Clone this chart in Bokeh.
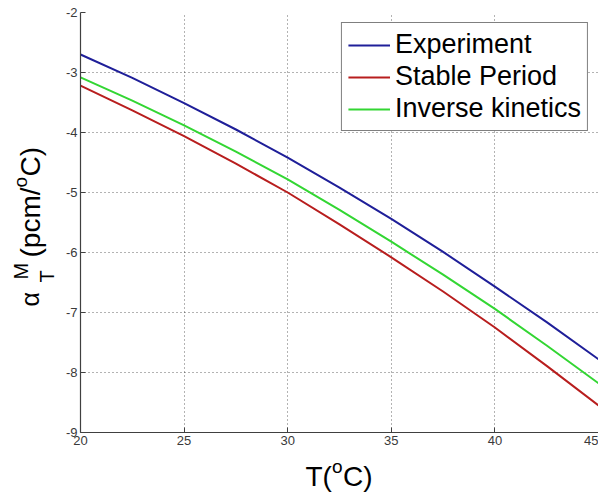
import math
from bokeh.plotting import figure
from bokeh.layouts import row, column
from bokeh.models import Range1d, FixedTicker, Label, Legend, LegendItem
from bokeh.embed import file_html
from bokeh.resources import INLINE

# ---- data ----
temperature = [20, 22.5, 25, 27.5, 30, 32.5, 35, 37.5, 40, 42.5, 45]
experiment = [-2.70, -3.09, -3.51, -3.95, -4.42, -4.92, -5.44, -5.99, -6.57, -7.16, -7.78]
stable_period = [-3.22, -3.63, -4.06, -4.52, -5.00, -5.53, -6.08, -6.65, -7.25, -7.89, -8.55]
inverse_kinetics = [-3.08, -3.47, -3.88, -4.32, -4.78, -5.29, -5.82, -6.37, -6.94, -7.55, -8.18]

series_names = ["Experiment", "Stable Period", "Inverse kinetics"]
series_colors = ["#1f1f99", "#b81e1e", "#33d633"]

x_ticks = [20, 25, 30, 35, 40, 45]
y_ticks = [-9, -8, -7, -6, -5, -4, -3, -2]
x_lo, x_hi = 20, 45
y_lo, y_hi = -9, -2

FONT = "Liberation Sans"

# ---- layout sizes ----
TOTAL_W, TOTAL_H = 598, 492
YLAB_W = 58            # strip holding the rotated y title
XLAB_H = 40            # strip holding the x title
MAIN_W = TOTAL_W - YLAB_W
MAIN_H = TOTAL_H - XLAB_H

p = figure(width=MAIN_W, height=MAIN_H, output_backend="svg", toolbar_location=None,
           x_range=Range1d(x_lo, x_hi), y_range=Range1d(y_lo, y_hi),
           min_border_left=22, min_border_right=0,
           min_border_top=12, min_border_bottom=MAIN_H - 432)
p.outline_line_color = None
p.background_fill_color = "white"
p.border_fill_color = "white"

for ax, ticks in ((p.xaxis[0], x_ticks), (p.yaxis[0], y_ticks)):
    ax.ticker = FixedTicker(ticks=ticks)
    ax.major_label_overrides = {t: str(t) for t in ticks}
    ax.major_label_text_font = FONT
    ax.major_label_text_font_size = "13px"
    ax.major_label_text_color = "#3a3a3a"
    ax.axis_line_color = "#404040"
    ax.axis_line_width = 1.2
    ax.major_tick_line_color = "#404040"
    ax.major_tick_in = 5
    ax.major_tick_out = 0
    ax.minor_tick_line_color = None
    ax.major_label_standoff = 3

for g in (p.xgrid[0], p.ygrid[0]):
    g.grid_line_color = "#000000"
    g.grid_line_alpha = 0.6
    g.grid_line_dash = "1 3"
    g.grid_line_width = 1

renderers = []
for ys, c in zip([experiment, stable_period, inverse_kinetics], series_colors):
    r = p.line(temperature, ys, line_color=c, line_width=2)
    renderers.append(r)

legend = Legend(items=[LegendItem(label=n, renderers=[r]) for n, r in zip(series_names, renderers)],
                location="top_right")
legend.label_text_font = FONT
legend.label_text_font_size = "27px"
legend.label_text_color = "black"
legend.border_line_color = "black"
legend.border_line_width = 1
legend.background_fill_color = "white"
legend.background_fill_alpha = 1
legend.glyph_width = 42
legend.glyph_height = 20
legend.label_standoff = 5
legend.padding = 6
legend.spacing = 1
legend.margin = 10
p.add_layout(legend, "center")


def strip(w, h):
    f = figure(width=w, height=h, output_backend="svg", toolbar_location=None,
               x_axis_type=None, y_axis_type=None,
               x_range=Range1d(0, 1), y_range=Range1d(0, 1), min_border=0)
    f.outline_line_color = None
    f.grid.visible = False
    f.background_fill_color = "white"
    f.border_fill_color = "white"
    return f


MID = 0.35  # distance from the em-box middle to the baseline, in font sizes


def piece(fig, text, along, base, size, rotated=False):
    """Place a text piece whose start is at `along` and whose baseline lies at `base`."""
    if rotated:
        px, py, ang = base - MID * size, along, math.pi / 2
    else:
        px, py, ang = along, base - MID * size, 0.0
    fig.add_layout(Label(x=px, y=py, x_units="canvas", y_units="canvas",
                         text=text, angle=ang,
                         text_font=FONT, text_font_size=f"{size}px",
                         text_color="black", text_align="left",
                         text_baseline="middle"))

# y axis title: alpha_T^M (pcm/°C), rotated, in the left strip (page coords = strip coords)
yfig = strip(YLAB_W, TOTAL_H)
piece(yfig, "α", 306, 38, 25, True)
piece(yfig, "T", 282, 53, 20, True)
piece(yfig, "M", 279, 27, 20, True)
piece(yfig, "(pcm/", 257, 40, 28, True)
piece(yfig, "o", 187, 27, 19, True)
piece(yfig, "C)", 176, 40, 28, True)

# x axis title: T(°C), in the bottom strip
xfig = strip(MAIN_W, XLAB_H)
ox, oy = YLAB_W, MAIN_H
piece(xfig, "T(", 305 - ox, 486 - oy, 28)
piece(xfig, "o", 331.5 - ox, 473 - oy, 19)
piece(xfig, "C)", 342.5 - ox, 486 - oy, 28)

layout = row(yfig, column(p, xfig, spacing=0), spacing=0)
open("out.html", "w").write(file_html(layout, INLINE))
